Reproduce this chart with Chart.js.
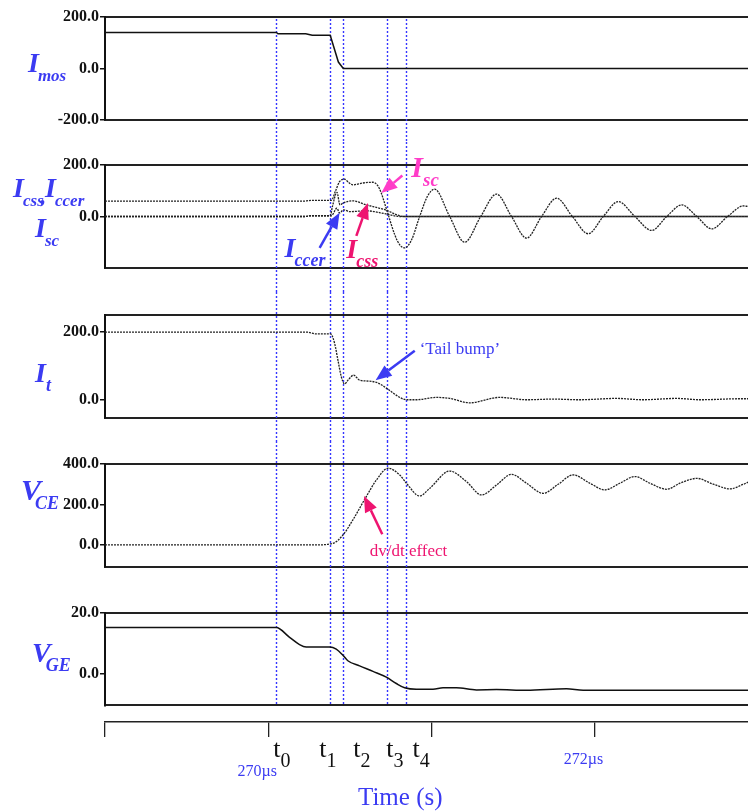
<!DOCTYPE html>
<html>
<head>
<meta charset="utf-8">
<script src="https://cdn.jsdelivr.net/npm/chart.js@4.4.1/dist/chart.umd.min.js"></script>
<style>
html, body { margin: 0; padding: 0; background: #fff; }
#wrap { position: relative; width: 748px; height: 811px; overflow: hidden; }
canvas { position: absolute; left: 0; }
</style>
</head>
<body>
<div id="wrap">
<canvas id="c-imos" width="748" height="142" style="top:0px"></canvas>
<canvas id="c-isc" width="748" height="150" style="top:142px"></canvas>
<canvas id="c-it" width="748" height="149" style="top:292px"></canvas>
<canvas id="c-vce" width="748" height="149" style="top:441px"></canvas>
<canvas id="c-vge" width="748" height="126" style="top:590px"></canvas>
<canvas id="c-time" width="748" height="95" style="top:716px"></canvas>
</div>
<script>
// time axis in microseconds
const timeMin = 269, timeMax = 272.94;
const timeTickValues = [269, 270, 271, 272];
const timeTickLabels = ['', '270µs', '', '272µs'];

// switching instants t0..t4
const markerTimes = [270.049, 270.380, 270.460, 270.730, 270.842];
const markerNames = ['0', '1', '2', '3', '4'];

const imosTime = [269.0, 270.05, 270.06, 270.23, 270.27, 270.38, 270.43, 270.46, 272.94];
const imosVal = [140, 140, 135, 135, 129, 129, 25, 0, 0];

const iscTime = [269.0, 270.223, 270.266, 270.387, 270.413, 270.437, 270.468, 270.493, 270.519, 270.579, 270.642, 270.671, 270.693, 270.714, 270.734, 270.775, 270.806, 270.836, 270.879, 270.928, 270.977, 271.020, 271.112, 271.204, 271.302, 271.399, 271.491, 271.583, 271.675, 271.767, 271.864, 271.961, 272.053, 272.145, 272.247, 272.350, 272.442, 272.534, 272.626, 272.718, 272.815, 272.912, 272.94];
const iscVal = [60, 60, 63, 63, 100, 135, 145, 132, 123, 130, 133, 120, 91, 50, 10, -70, -110, -122, -90, 0, 80, 106, 0, -100, 0, 87, 0, -84, 0, 71, 0, -67, 0, 58, 0, -54, 0, 45, 0, -48, 0, 41, 39];

const icssTime = [269.0, 270.223, 270.266, 270.380, 270.394, 270.421, 270.440, 270.458, 270.519, 270.601, 270.683, 270.734, 270.785, 270.836, 272.94];
const icssVal = [0, 0, 3, 3, 40, 94, 45, 52, 61, 45, 32, 22, 7, 0, 0];

const iccerTime = [269.0, 270.223, 270.266, 270.387, 270.421, 270.437, 270.462, 270.499, 270.601, 270.722, 270.806, 272.94];
const iccerVal = [0, 0, 3, 3, 32, 14, 26, 19, 22, 10, 0, 0];

const itTime = [269.0, 270.241, 270.294, 270.382, 270.407, 270.427, 270.448, 270.468, 270.494, 270.523, 270.560, 270.621, 270.672, 270.734, 270.806, 270.847, 270.908, 271.031, 271.112, 271.235, 271.419, 271.583, 271.746, 271.910, 272.135, 272.296, 272.503, 272.646, 272.891, 272.94];
const itVal = [200, 200, 195, 195, 167, 118, 68, 47, 61, 73, 58, 55, 50, 31, 7, 0, 0, 7, 4, -9, 7, 0, 2, 0, 4, 0, 4, 0, 3, 3];

const vceTime = [269.0, 270.284, 270.396, 270.458, 270.519, 270.601, 270.663, 270.734, 270.806, 270.847, 270.928, 270.990, 271.112, 271.215, 271.307, 271.399, 271.491, 271.583, 271.685, 271.777, 271.869, 271.971, 272.063, 272.155, 272.247, 272.339, 272.442, 272.523, 272.626, 272.728, 272.830, 272.912, 272.94];
const vceVal = [0, 0, 8, 49, 124, 239, 321, 379, 346, 305, 242, 280, 365, 313, 247, 296, 349, 305, 255, 300, 346, 305, 272, 305, 338, 305, 275, 305, 329, 300, 277, 300, 310];

const vgeTime = [269.0, 270.049, 270.131, 270.192, 270.233, 270.376, 270.417, 270.458, 270.488, 270.560, 270.642, 270.724, 270.785, 270.836, 270.908, 271.010, 271.071, 271.153, 271.276, 271.399, 271.583, 271.828, 271.930, 272.94];
const vgeVal = [15.2, 15.2, 12.0, 9.6, 8.8, 8.8, 8.1, 6.1, 4.3, 2.6, 0.8, -1.1, -3.2, -4.6, -5.1, -5.1, -4.6, -4.6, -5.3, -5.2, -5.4, -4.9, -5.4, -5.4];

const BLUE = '#3b3bf2';
const LINE_BLUE = '#3535ff';
const PINK = '#ff3cc8';
const RED = '#ee1470';
const SERIF = '"Liberation Serif", "Times New Roman", serif';
const BI = s => `italic bold ${s}px ${SERIF}`;
const RG = s => `${s}px ${SERIF}`;

function pts(ts, vs) {
    return ts.map((t, i) => ({ x: t, y: vs[i] }));
}

const solid = { borderColor: '#111', borderWidth: 1.5, tension: 0 };
const dotted = { borderColor: '#222', borderWidth: 1.3, borderDash: [2, 1], cubicInterpolationMode: 'monotone' };

function txt(ctx, s, x, y, font, color) {
    ctx.font = font;
    ctx.fillStyle = color;
    ctx.textAlign = 'left';
    ctx.textBaseline = 'alphabetic';
    ctx.fillText(s, x, y);
    return x + ctx.measureText(s).width;
}

// main letter with a subscript right after it
function subLabel(ctx, main, sub, x, y, size, subSize, color, dx) {
    const end = txt(ctx, main, x, y, BI(size), color);
    txt(ctx, sub, end + (dx || 0), y + subSize * 0.5, BI(subSize), color);
}

function arrow(ctx, x1, y1, x2, y2, color) {
    const a = Math.atan2(y2 - y1, x2 - x1), L = 16, W = 6.5;
    const bx = x2 - L * Math.cos(a), by = y2 - L * Math.sin(a);
    ctx.save();
    ctx.strokeStyle = color;
    ctx.fillStyle = color;
    ctx.lineWidth = 2.5;
    ctx.beginPath();
    ctx.moveTo(x1, y1);
    ctx.lineTo(bx, by);
    ctx.stroke();
    ctx.beginPath();
    ctx.moveTo(x2, y2);
    ctx.lineTo(bx + W * Math.sin(a), by - W * Math.cos(a));
    ctx.lineTo(bx - W * Math.sin(a), by + W * Math.cos(a));
    ctx.closePath();
    ctx.fill();
    ctx.restore();
}

function px(chart, t, v) {
    return [chart.scales.x.getPixelForValue(t), chart.scales.y.getPixelForValue(v)];
}

// blue dotted verticals at t0..t4, running through every panel
const markerLines = {
    id: 'markerLines',
    beforeDatasetsDraw(chart, args, opts) {
        const { ctx, chartArea, scales } = chart;
        const y0 = opts.fromArea ? chartArea.top + 2 : 0;
        const y1 = opts.toArea ? chartArea.bottom : chart.height;
        ctx.save();
        ctx.strokeStyle = LINE_BLUE;
        ctx.lineWidth = 1.4;
        ctx.setLineDash([2, 2]);
        markerTimes.forEach(t => {
            const x = Math.round(scales.x.getPixelForValue(t)) + 0.5;
            ctx.beginPath();
            ctx.moveTo(x, y0);
            ctx.lineTo(x, y1);
            ctx.stroke();
        });
        ctx.restore();
    }
};

const edgeAxis = pos => ({
    type: 'linear', min: timeMin, max: timeMax, position: pos,
    afterFit: s => { s.height = 0; },
    grid: { display: false },
    ticks: { display: false },
    border: { display: true, color: '#222', width: 2 }
});

function panel(id, datasets, yMin, yMax, yTicks, padTop, padBottom, lines, notes) {
    return new Chart(document.getElementById(id), {
        type: 'line',
        data: { datasets: datasets },
        options: {
            responsive: false,
            animation: false,
            devicePixelRatio: 1,
            layout: { padding: { left: 0, right: 0, top: padTop, bottom: padBottom } },
            elements: { point: { radius: 0 } },
            plugins: { legend: { display: false }, tooltip: { enabled: false }, markerLines: lines },
            scales: {
                x: edgeAxis('bottom'),
                xTop: Object.assign(edgeAxis('top'), { axis: 'x' }),
                y: {
                    min: yMin, max: yMax,
                    afterFit: s => { s.width = 105; },
                    afterBuildTicks: s => { s.ticks = yTicks.map(v => ({ value: v })); },
                    grid: { display: true, drawOnChartArea: false, drawTicks: true, tickLength: 5, color: '#111', lineWidth: 1.5 },
                    border: { display: true, color: '#111', width: 2 },
                    ticks: {
                        padding: 1, color: '#111',
                        font: { family: SERIF, size: 16, weight: 'bold' },
                        callback: v => v.toFixed(1)
                    }
                }
            }
        },
        plugins: [markerLines, { id: 'notes', afterDraw: notes }]
    });
}

panel('c-imos', [Object.assign({ data: pts(imosTime, imosVal) }, solid)],
    -200, 200, [-200, 0, 200], 17, 22, { fromArea: true, toArea: false },
    c => { subLabel(c.ctx, 'I', 'mos', 28, 72, 28, 17, BLUE, -1); });

panel('c-isc', [
    Object.assign({ data: pts(icssTime, icssVal) }, dotted),
    Object.assign({ data: pts(iccerTime, iccerVal) }, dotted),
    Object.assign({ data: pts(iscTime, iscVal) }, dotted)
], -200, 200, [0, 200], 23, 24, { fromArea: false, toArea: false },
    c => {
        const ctx = c.ctx;
        txt(ctx, 'I', 13, 55, BI(28), BLUE);
        txt(ctx, 'css', 23, 64, BI(17), BLUE);
        txt(ctx, ',', 41, 61, BI(20), BLUE);
        txt(ctx, 'I', 45, 55, BI(28), BLUE);
        txt(ctx, 'ccer', 55, 64, BI(17), BLUE);
        subLabel(ctx, 'I', 'sc', 35, 95, 28, 17, BLUE, -1);

        let p = px(c, 270.877, 155);
        subLabel(ctx, 'I', 'sc', p[0], p[1], 30, 19, PINK, 0);
        arrow(ctx, ...px(c, 270.822, 159), ...px(c, 270.693, 91), PINK);

        p = px(c, 270.100, -156);
        subLabel(ctx, 'I', 'ccer', p[0], p[1], 28, 18, BLUE, -1);
        arrow(ctx, ...px(c, 270.315, -122), ...px(c, 270.437, 15), BLUE);

        p = px(c, 270.479, -160);
        subLabel(ctx, 'I', 'css', p[0], p[1], 28, 18, RED, -1);
        arrow(ctx, ...px(c, 270.540, -75), ...px(c, 270.611, 52), RED);
    });

panel('c-it', [Object.assign({ data: pts(itTime, itVal) }, dotted)],
    -54, 251, [0, 200], 23, 23, { fromArea: false, toArea: false },
    c => {
        const ctx = c.ctx;
        subLabel(ctx, 'I', 't', 35, 90, 28, 18, BLUE, 0);
        const p = px(c, 270.928, 136);
        txt(ctx, '\u2018Tail bump\u2019', p[0], p[1], RG(17), BLUE);
        arrow(ctx, ...px(c, 270.898, 145), ...px(c, 270.658, 58), BLUE);
    });

panel('c-vce', [Object.assign({ data: pts(vceTime, vceVal) }, dotted)],
    -109, 400, [0, 200, 400], 23, 23, { fromArea: false, toArea: false },
    c => {
        const ctx = c.ctx;
        subLabel(ctx, 'V', 'CE', 21, 59, 30, 18, BLUE, -6);
        const p = px(c, 270.622, -54);
        txt(ctx, 'dv/dt effect', p[0], p[1], RG(17), RED);
        arrow(ctx, ...px(c, 270.699, 53), ...px(c, 270.587, 242), RED);
    });

panel('c-vge', [Object.assign({ data: pts(vgeTime, vgeVal) }, solid, { cubicInterpolationMode: 'monotone' })],
    -10.4, 20, [0, 20], 23, 1, { fromArea: false, toArea: true },
    c => { subLabel(c.ctx, 'V', 'GE', 32, 72, 28, 18, BLUE, -5); });

// shared time axis at the bottom
const tShift = [-3, -11, 10, -1, 7];
new Chart(document.getElementById('c-time'), {
    type: 'line',
    data: { datasets: [] },
    options: {
        responsive: false,
        animation: false,
        devicePixelRatio: 1,
        layout: { padding: { left: 105, right: 0, top: 0, bottom: 0 } },
        plugins: { legend: { display: false }, tooltip: { enabled: false } },
        scales: {
            x: {
                type: 'linear', min: timeMin, max: timeMax, position: 'bottom',
                afterBuildTicks: s => { s.ticks = timeTickValues.map(v => ({ value: v })); },
                afterFit: s => { s.height = 89; },
                grid: { display: true, drawOnChartArea: false, drawTicks: true, tickLength: 15, color: '#222', lineWidth: 1.3 },
                border: { display: true, color: '#222', width: 1.5 },
                ticks: {
                    autoSkip: false, maxRotation: 0, padding: 13, labelOffset: -11, color: BLUE,
                    font: c => ({ family: SERIF, size: 16, lineHeight: c.index === 1 ? 2.69 : 1.2 }),
                    callback: (v, i) => timeTickLabels[i]
                }
            },
            y: { display: false }
        }
    },
    plugins: [{
        id: 'timeNotes',
        afterDraw(c) {
            const ctx = c.ctx;
            markerTimes.forEach((t, i) => {
                const x = c.scales.x.getPixelForValue(t) + tShift[i];
                const end = txt(ctx, 't', x, 41, RG(26), '#111');
                txt(ctx, markerNames[i], end, 51, RG(20), '#111');
            });
            txt(ctx, 'Time (s)', 358, 89, RG(25), BLUE);
        }
    }]
});
</script>
</body>
</html>
